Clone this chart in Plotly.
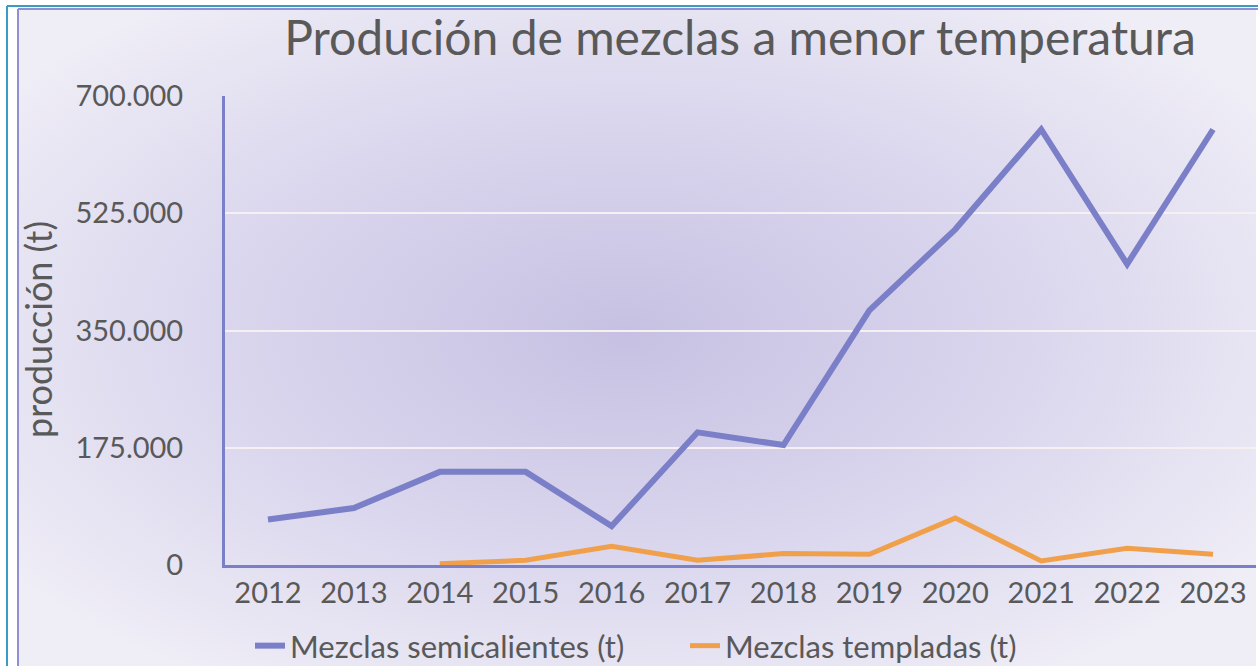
import base64
import plotly.graph_objects as go

years = ["2012", "2013", "2014", "2015", "2016", "2017", "2018", "2019", "2020", "2021", "2022", "2023"]
semicalientes = [68000, 85000, 139000, 139000, 58000, 198000, 179000, 380000, 501000, 650000, 449000, 650000]
templadas = [None, None, 2000, 7000, 28000, 7000, 17000, 16000, 70000, 6000, 25000, 16000]
y_tickvals = [0, 175000, 350000, 525000, 700000]
y_ticktext = ["0", "175.000", "350.000", "525.000", "700.000"]

W, H = 1258, 666
L, R, T, B = 225, 1256, 96, 565  # plot area in pixels


def px(x):
    return (x - L) / (R - L)


def py(y):
    return (B - y) / (B - T)


svg = (
    '<svg xmlns="http://www.w3.org/2000/svg" width="1000" height="600" viewBox="0 0 1000 600" preserveAspectRatio="none">'
    '<defs><radialGradient id="g" cx="0.49" cy="0.49" r="0.62">'
    '<stop offset="0" stop-color="#c6c1e2"/>'
    '<stop offset="0.55" stop-color="#dbd7ee"/>'
    '<stop offset="1" stop-color="#efedf6"/>'
    '</radialGradient></defs>'
    '<rect width="1000" height="600" fill="url(#g)"/></svg>'
)
src = "data:image/svg+xml;base64," + base64.b64encode(svg.encode()).decode()

font = "Lato, Carlito, 'Open Sans', sans-serif"
grey = "#595959"

fig = go.Figure()
fig.add_trace(go.Scatter(x=years, y=semicalientes, mode="lines", name="Mezclas semicalientes (t)",
                         line=dict(color="#7b7fc8", width=6)))
fig.add_trace(go.Scatter(x=years, y=templadas, mode="lines", name="Mezclas templadas (t)",
                         line=dict(color="#f0a04a", width=5)))

fig.update_layout(
    width=W, height=H,
    margin=dict(l=L, r=W - R, t=T, b=H - B),
    paper_bgcolor="white",
    plot_bgcolor="rgba(0,0,0,0)",
    font=dict(family=font, color=grey, size=29),
    title=dict(text="Produción de mezclas a menor temperatura", x=740 / W, xanchor="center",
               y=1 - 38 / H, yanchor="middle", font=dict(size=48, color=grey, family=font)),
    showlegend=True,
    legend=dict(orientation="h", xref="container", yref="container", x=250 / W, xanchor="left",
                y=(H - 646) / H, yanchor="middle", entrywidth=390,
                font=dict(size=31, color=grey), bgcolor="rgba(0,0,0,0)", itemwidth=30),
    images=[dict(source=src, xref="paper", yref="paper", x=px(18), y=py(9),
                 sizex=px(1256) - px(18), sizey=py(9) - py(670), sizing="stretch", layer="below")],
    shapes=[
        dict(type="line", xref="paper", yref="paper", x0=px(7), x1=px(7), y0=py(6), y1=py(680),
             line=dict(color="#3a9cc4", width=2)),
        dict(type="line", xref="paper", yref="paper", x0=px(7), x1=px(1262), y0=py(6), y1=py(6),
             line=dict(color="#3a9cc4", width=2)),
        dict(type="line", xref="paper", yref="paper", x0=px(18), x1=px(18), y0=py(9), y1=py(680),
             line=dict(color="#8e90d2", width=2)),
        dict(type="line", xref="paper", yref="paper", x0=px(18), x1=px(1262), y0=py(9), y1=py(9),
             line=dict(color="#8e90d2", width=2)),
    ],
    annotations=[
        dict(text="producción (t)", xref="paper", yref="paper", x=px(38), y=py(330),
             xanchor="center", yanchor="middle", textangle=-90, showarrow=False,
             font=dict(size=36, color=grey)),
    ],
)
fig.update_xaxes(type="category", range=[-0.5, 11.5], showline=True, linecolor="#7b7fc8", linewidth=3,
                 showgrid=False, ticks="", tickfont=dict(size=29, color=grey), ticklabelstandoff=0,
                 zeroline=False)
fig.update_yaxes(range=[0, 700000], tickvals=y_tickvals, ticktext=y_ticktext, showline=True,
                 linecolor="#7b7fc8", linewidth=3, showgrid=True, gridcolor="#f6f0f2", gridwidth=2,
                 zeroline=False, ticks="", tickfont=dict(size=29, color=grey), ticklabelstandoff=33)

fig.write_html("out.html", config={"displayModeBar": False},
               post_script="document.body.style.margin='0';document.body.style.overflow='hidden';")
